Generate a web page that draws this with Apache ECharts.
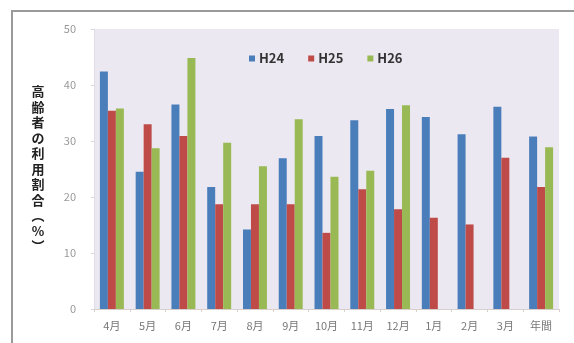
<!DOCTYPE html>
<html><head><meta charset="utf-8">
<script src="https://cdn.jsdelivr.net/npm/echarts@6/dist/echarts.min.js"></script>
<style>html,body{margin:0;padding:0;background:#fff}#c{width:574px;height:343px}</style>
</head><body><div id="c"></div>
<script>
const categories = ['4月','5月','6月','7月','8月','9月','10月','11月','12月','1月','2月','3月','年間'];
const seriesNames = ['H24','H25','H26'];
const h24 = [42.4, 24.5, 36.5, 21.8, 14.2, 26.9, 30.9, 33.7, 35.7, 34.3, 31.2, 36.1, 30.8];
const h25 = [35.4, 33.0, 30.9, 18.7, 18.7, 18.7, 13.6, 21.4, 17.8, 16.3, 15.1, 27.0, 21.8];
const h26 = [35.8, 28.7, 44.8, 29.7, 25.5, 33.9, 23.6, 24.7, 36.4, null, null, null, 28.9];
const yTicks = [0, 10, 20, 30, 40, 50];
const yName = '高齢者の利用割合（%）';

const colors = ['#4a7ebb', '#be4b48', '#98b954'];
const chart = echarts.init(document.getElementById('c'), null, {renderer: 'canvas'});
const vName = yName.replace('（', '︵').replace('）', '︶').split('').join('\n');
chart.setOption({
  animation: false,
  color: colors,
  textStyle: {fontFamily: '"Noto Sans CJK JP", "DejaVu Sans", sans-serif'},
  graphic: [{
    type: 'rect', shape: {x: 12, y: 11, width: 620, height: 400},
    style: {fill: 'none', stroke: '#9a9a9a', lineWidth: 2}, silent: true
  }],
  grid: {left: 94, right: 15, top: 29, bottom: 34, show: true,
    backgroundColor: '#ebe8f1', borderWidth: 0},
  legend: {
    data: seriesNames, left: 244, top: 47, itemWidth: 6, itemHeight: 6, itemGap: 24,
    icon: 'rect',
    textStyle: {fontSize: 13, fontWeight: 'bold', color: '#333', padding: [0, 0, 0, -1]}
  },
  xAxis: {
    type: 'category', data: categories,
    axisLine: {lineStyle: {color: '#d8cfcc', width: 1}},
    axisTick: {show: true, length: 3, lineStyle: {color: '#d8cfcc'}},
    axisLabel: {color: '#777', fontSize: 11, margin: 11}
  },
  yAxis: {
    type: 'value', min: yTicks[0], max: yTicks[yTicks.length - 1], interval: 10,
    name: vName, nameLocation: 'middle', nameRotate: 0, nameGap: 56,
    nameTextStyle: {fontSize: 13, fontWeight: 'bold', color: '#222', lineHeight: 15.5, align: 'center', padding: [0, 0, 0, 0]},
    axisLine: {show: true, lineStyle: {color: '#e2dde2'}},
    axisTick: {show: true, length: 3, lineStyle: {color: '#d8d4d8'}},
    axisLabel: {color: '#999', fontSize: 11, margin: 18},
    splitLine: {show: false}
  },
  series: [
    {name: seriesNames[0], type: 'bar', data: h24, barGap: '0%', barCategoryGap: '33%'},
    {name: seriesNames[1], type: 'bar', data: h25, barGap: '0%', barCategoryGap: '33%'},
    {name: seriesNames[2], type: 'bar', data: h26, barGap: '0%', barCategoryGap: '33%'}
  ]
});
</script></body></html>
